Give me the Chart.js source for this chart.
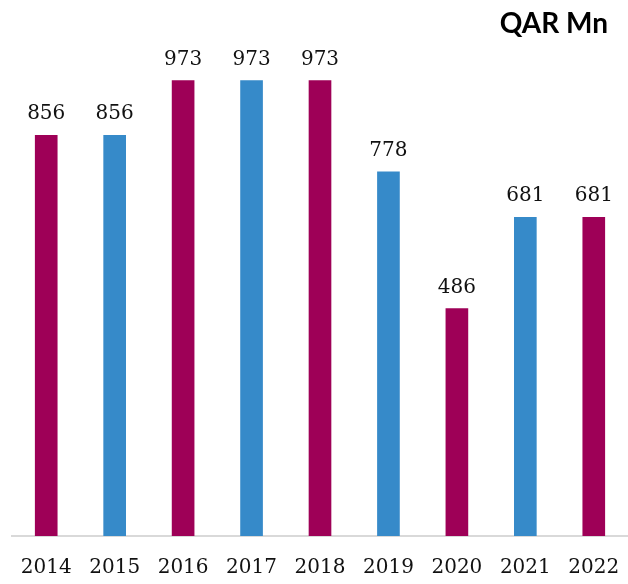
<!DOCTYPE html>
<html>
<head>
<meta charset="utf-8">
<script src="https://cdn.jsdelivr.net/npm/chart.js@4"></script>
<style>
  html, body { margin: 0; padding: 0; background: #ffffff; }
  #wrap { position: relative; width: 628px; height: 584px; overflow: hidden; }
  #title { position: absolute; right: 20px; top: 5px; font-family: Lato, "Open Sans", sans-serif; font-weight: bold; font-size: 28px; color: #000; }
  canvas { display: block; }
</style>
</head>
<body>
<div id="wrap">
  <canvas id="c" width="628" height="584"></canvas>
  <div id="title">QAR Mn</div>
</div>
<script>
const years = ["2014", "2015", "2016", "2017", "2018", "2019", "2020", "2021", "2022"];
const values = [856, 856, 973, 973, 973, 778, 486, 681, 681];
const barColors = ["#9E0057", "#368AC9", "#9E0057", "#368AC9", "#9E0057", "#368AC9", "#9E0057", "#368AC9", "#9E0057"];

const valueLabels = {
  id: 'valueLabels',
  afterDatasetsDraw(chart) {
    const ctx = chart.ctx;
    const meta = chart.getDatasetMeta(0);
    ctx.save();
    ctx.font = '20px "DejaVu Serif", serif';
    ctx.fillStyle = '#111111';
    ctx.textAlign = 'center';
    ctx.textBaseline = 'alphabetic';
    meta.data.forEach((bar, i) => {
      ctx.fillText(String(values[i]), bar.x, bar.y - 16);
    });
    ctx.restore();
  }
};

new Chart(document.getElementById('c'), {
  type: 'bar',
  data: {
    labels: years,
    datasets: [{
      data: values,
      backgroundColor: barColors,
      borderWidth: 0,
      barThickness: 22
    }]
  },
  options: {
    responsive: false,
    animation: false,
    layout: { padding: { top: 68, left: 12, right: 0, bottom: 4 } },
    plugins: { legend: { display: false }, tooltip: { enabled: false } },
    scales: {
      x: {
        grid: { display: false, drawTicks: true, tickLength: 20 },
        border: { display: true, color: '#D9D9D9', width: 2 },
        ticks: { color: '#111111', font: { family: '"DejaVu Serif", serif', size: 20 }, padding: 0, maxRotation: 0 }
      },
      y: {
        display: false,
        min: 0,
        max: 1000
      }
    }
  },
  plugins: [valueLabels]
});
</script>
</body>
</html>
